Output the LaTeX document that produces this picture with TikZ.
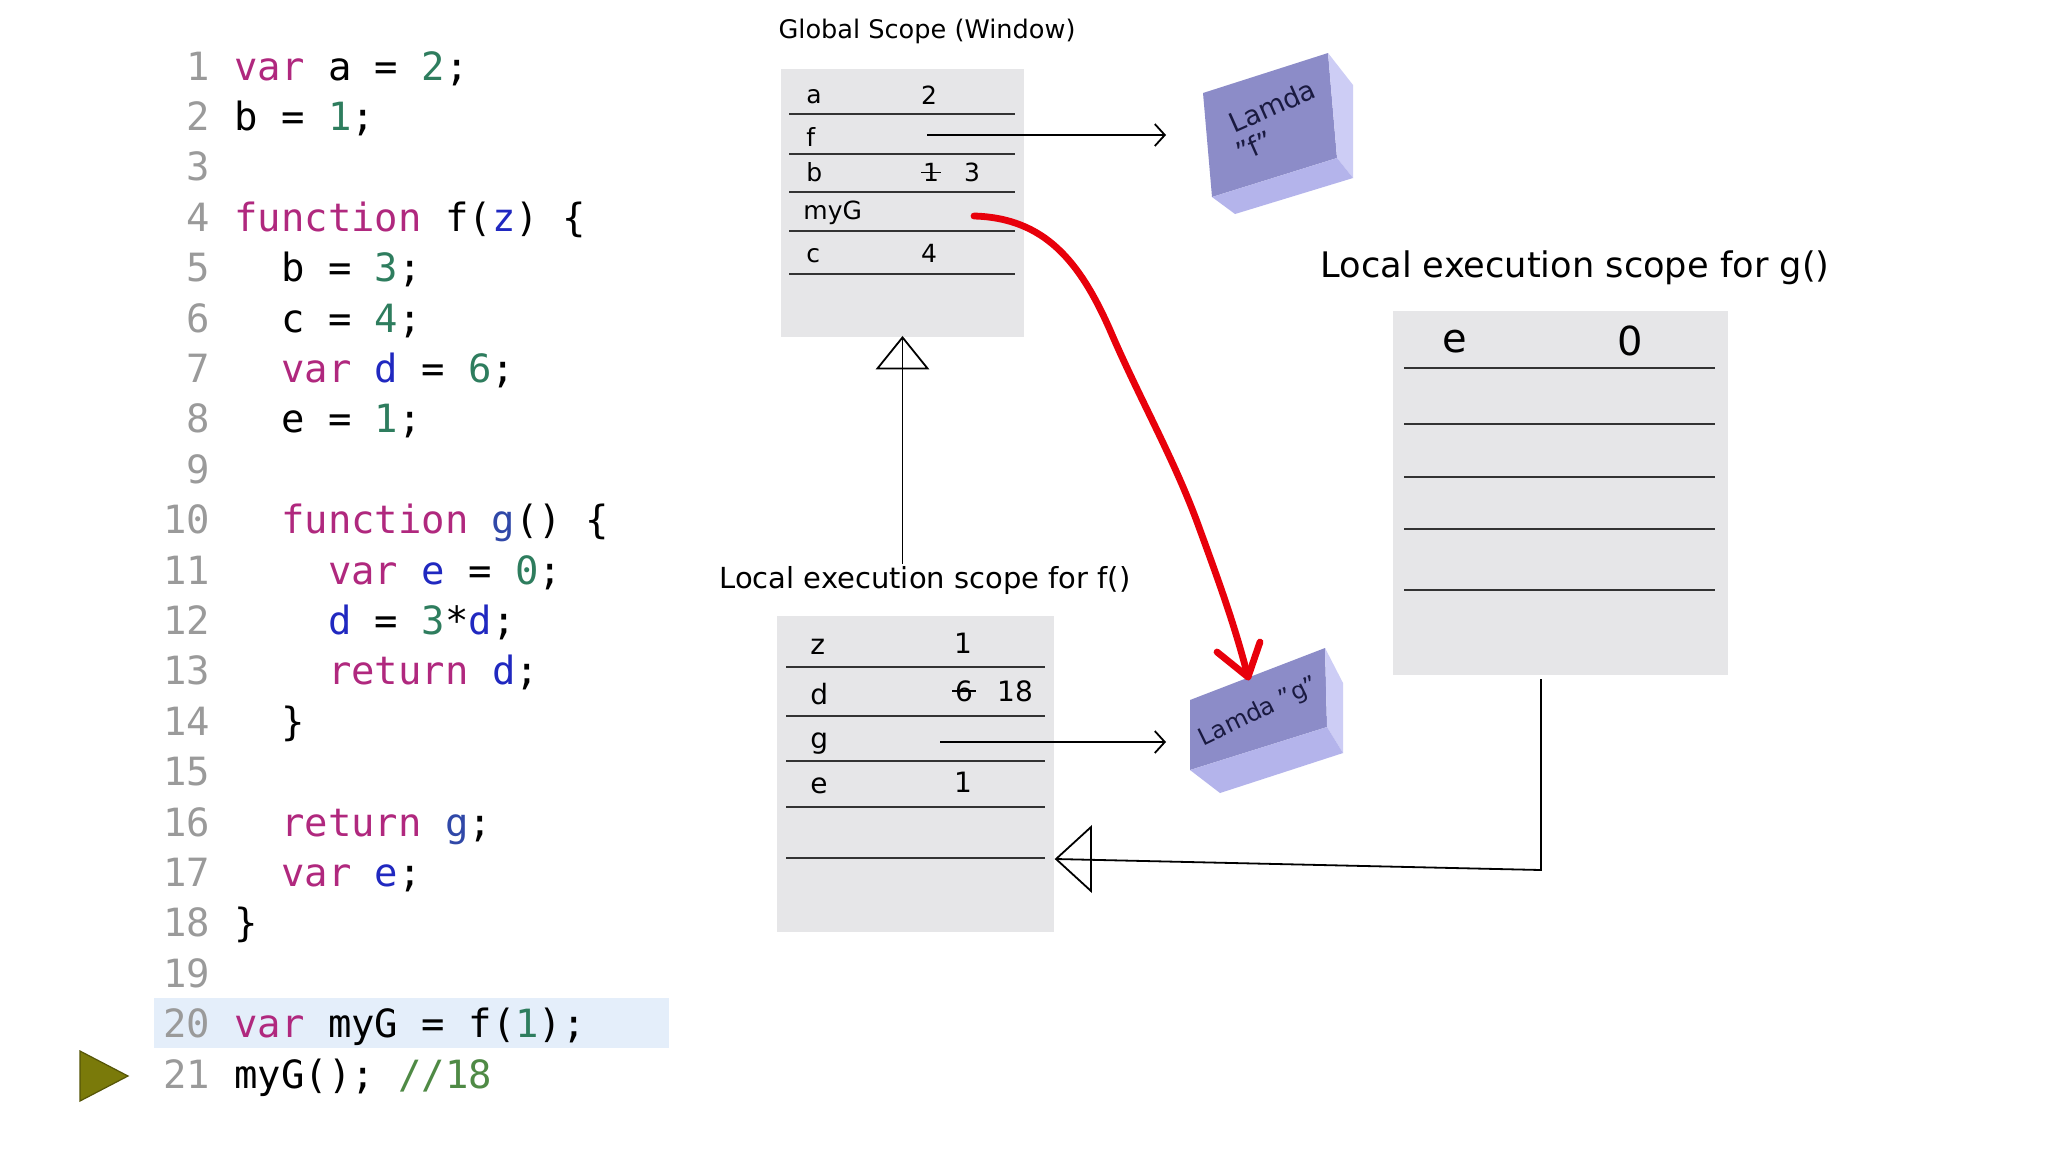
\documentclass[tikz,border=0pt]{standalone}
\usepackage{fontspec}
\setmainfont{DejaVu Sans}
\newfontfamily\codefont{DejaVu Sans Mono}
\usetikzlibrary{fit,arrows.meta}
\definecolor{kwc}{HTML}{B0287E}
\definecolor{numc}{HTML}{2E7D5E}
\definecolor{idc}{HTML}{2028C0}
\definecolor{idg}{HTML}{3048A8}
\definecolor{comc}{HTML}{4F8A45}
\definecolor{lnc}{HTML}{9A9A9A}
\definecolor{hlc}{HTML}{E4EEFA}
\definecolor{boxc}{HTML}{E6E6E8}
\definecolor{rowc}{HTML}{333333}
\definecolor{olive}{HTML}{7A7A0A}
\definecolor{facefront}{HTML}{8C8CC8}
\definecolor{faceright}{HTML}{CDCDF5}
\definecolor{facebottom}{HTML}{B4B4EB}
\definecolor{lamtext}{HTML}{1A1A40}
\definecolor{redc}{HTML}{E8000B}
\newcommand\ckw[1]{\textcolor{kwc}{#1}}
\newcommand\cnum[1]{\textcolor{numc}{#1}}
\newcommand\cid[1]{\textcolor{idc}{#1}}
\newcommand\cidg[1]{\textcolor{idg}{#1}}
\newcommand\ccom[1]{\textcolor{comc}{#1}}
\begin{document}
\begin{tikzpicture}[x=0.5pt,y=-0.5pt,
  codeline/.style={anchor=base west, inner sep=0pt, font=\codefont\fontsize{19.45}{23}\selectfont},
  lnum/.style={anchor=base east, inner sep=0pt, text=lnc, font=\codefont\fontsize{19.45}{23}\selectfont},
  scopebox/.style={fill=boxc, inner sep=0pt, draw=none},
  rowline/.style={draw=rowc, line width=1.2pt},
  gvar/.style={anchor=base west, inner sep=0pt, font=\fontsize{12.5}{15}\selectfont},
  gval/.style={anchor=base, inner sep=0pt, font=\fontsize{12.5}{15}\selectfont},
  fvar/.style={anchor=base west, inner sep=0pt, font=\fontsize{14}{17}\selectfont},
  fval/.style={anchor=base, inner sep=0pt, font=\fontsize{14}{17}\selectfont},
  hvar/.style={anchor=base, inner sep=0pt, font=\fontsize{20}{24}\selectfont},
  thinline/.style={draw=black, line width=0.9pt},
  ptr/.style={thinline, -{Straight Barb[length=5pt,width=11pt]}},
  lamlabel/.style={inner sep=0pt, text=lamtext, font=\fontsize{13.5}{16}\selectfont},
  titletext/.style={inner sep=1pt}
]
\useasboundingbox (0,0) rectangle (2048,1152);
\fill[white] (0,0) rectangle (2048,1152);

% ---------- code ----------
\fill[hlc] (154,998) rectangle (669,1048);
\foreach \k in {1,...,21} {
  \node[lnum] (n\k) at (210.6,{80+(\k-1)*50.4}) {\k};
}
\node[codeline] (l1)  at (234,80)     {\ckw{var} a = \cnum{2};};
\node[codeline] (l2)  at (234,130.4)  {b = \cnum{1};};
\node[codeline] (l4)  at (234,231.2)  {\ckw{function} f(\cid{z}) \{};
\node[codeline] (l5)  at (280.8,281.6) {b = \cnum{3};};
\node[codeline] (l6)  at (280.8,332)   {c = \cnum{4};};
\node[codeline] (l7)  at (280.8,382.4) {\ckw{var} \cid{d} = \cnum{6};};
\node[codeline] (l8)  at (280.8,432.8) {e = \cnum{1};};
\node[codeline] (l10) at (280.8,533.6) {\ckw{function} \cidg{g}() \{};
\node[codeline] (l11) at (327.7,584)   {\ckw{var} \cid{e} = \cnum{0};};
\node[codeline] (l12) at (327.7,634.4) {\cid{d} = \cnum{3}*\cid{d};};
\node[codeline] (l13) at (327.7,684.8) {\ckw{return} \cid{d};};
\node[codeline] (l14) at (280.8,735.2) {\}};
\node[codeline] (l16) at (280.8,836)   {\ckw{return} \cidg{g};};
\node[codeline] (l17) at (280.8,886.4) {\ckw{var} \cid{e};};
\node[codeline] (l18) at (234,936.8)   {\}};
\node[codeline] (l20) at (234,1037.6)  {\ckw{var} myG = f(\cnum{1});};
\node[codeline] (l21) at (234,1088)    {myG(); \ccom{//18}};
\filldraw[fill=olive, draw=olive!70!black, line width=0.6pt] (80,1051) -- (128,1076) -- (80,1101) -- cycle;

% ---------- global scope ----------
\node[titletext, font=\fontsize{12.8}{15}\selectfont] (gtitle) at (927,31) {Global Scope (Window)};
\node[scopebox, fit={(781,69) (1024,337)}] (gbox) {};
\foreach \yy in {114,154,192,231,274} { \draw[rowline] (789,\yy) -- (1015,\yy); }
\node[gvar] (ga) at (806,103) {a};
\node[gval] (ga2) at (929,104) {2};
\node[gvar] (gf) at (806,146) {f};
\node[gvar] (gb) at (806,181) {b};
\node[gval] (gb1) at (931,181) {1};
\draw[black, line width=0.8pt] ([xshift=-5pt,yshift=4.2pt]gb1.base) -- ([xshift=5pt,yshift=4.2pt]gb1.base);
\node[gval] (gb3) at (972,181) {3};
\node[gvar] (gmyG) at (803,219) {myG};
\node[gvar] (gc) at (806,262) {c};
\node[gval] (gc4) at (929,262) {4};

% ---------- lambda f ----------
\fill[facefront] (1203,93) -- (1328,53) -- (1337,158) -- (1212,197) -- cycle;
\fill[faceright] (1328,53) -- (1353,85) -- (1353,178) -- (1337,158) -- cycle;
\fill[facebottom] (1212,197) -- (1235,214) -- (1353,178) -- (1337,158) -- cycle;
\node[lamlabel, rotate=24] (lamfA) at (1272,106) {Lamda};
\node[lamlabel, rotate=24] (lamfB) at (1254,146) {"f"};
\coordinate (fptr) at (927,135);
\coordinate (lamfIn) at (1166,135);
\draw[ptr] (fptr) -- (lamfIn);

% ---------- f scope ----------
\node[titletext, font=\fontsize{14.5}{17}\selectfont] (ftitle) at (925,580) {Local execution scope for f()};
\node[scopebox, fit={(777,616) (1054,932)}] (fbox) {};
\foreach \yy in {667,716,761,807,858} { \draw[rowline] (786,\yy) -- (1045,\yy); }
\node[fvar] (fz) at (810,654) {z};
\node[fval] (fz1) at (963,653) {1};
\node[fvar] (fd) at (810,704) {d};
\node[fval] (fd6) at (964,701) {6};
\draw[black, line width=0.8pt] ([xshift=-6pt,yshift=5pt]fd6.base) -- ([xshift=6pt,yshift=5pt]fd6.base);
\node[fval] (fd18) at (1015,701) {18};
\node[fvar] (fg) at (810,748) {g};
\node[fvar] (fe) at (810,793) {e};
\node[fval] (fe1) at (963,792) {1};
\coordinate (gptr) at (940,742);
\coordinate (lamgIn) at (1166,742);
\draw[ptr] (gptr) -- (lamgIn);

% inheritance f -> global
\draw[thinline] (gbox.south) -- (gbox.south |- ftitle.north);
\draw[thinline] (gbox.south) -- ++(-25,31) -- ++(50,0) -- cycle;

% ---------- lambda g ----------
\fill[facefront] (1190,700) -- (1325,648) -- (1327,727) -- (1190,770) -- cycle;
\fill[faceright] (1325,648) -- (1343,683) -- (1343,753) -- (1327,727) -- cycle;
\fill[facebottom] (1190,770) -- (1220,793) -- (1343,753) -- (1327,727) -- cycle;
\node[lamlabel, rotate=26, font=\fontsize{12}{14}\selectfont] (lamgA) at (1259,712) {Lamda "g"};
\coordinate (lamgTop) at (1248,677);

% ---------- g scope ----------
\node[titletext, font=\fontsize{17.6}{21}\selectfont] (htitle) at (1575,268) {Local execution scope for g()};
\node[scopebox, fit={(1393,311) (1728,675)}] (hbox) {};
\foreach \yy in {368,424,477,529,590} { \draw[rowline] (1404,\yy) -- (1715,\yy); }
\node[hvar] (he) at (1455,352) {e};
\node[hvar] (he0) at (1630,355) {0};

% inheritance g -> f
\coordinate (hout) at (1541,679);
\coordinate (hcorner) at (1541,870);
\coordinate (fin) at (1056,859);
\draw[thinline] (hout) -- (hcorner) -- (fin);
\draw[thinline] (fin) -- ++(35,-32) -- ++(0,64) -- cycle;

% ---------- red pointer myG -> lambda g ----------
\coordinate (myGptr) at (974,216);
\draw[redc, line width=3.4pt, line cap=round, line join=round]
  (myGptr) .. controls (1045,218) and (1080,262) .. (1110,330)
  .. controls (1140,400) and (1175,460) .. (1200,530)
  .. controls (1222,590) and (1236,630) .. (lamgTop);
\draw[redc, line width=3.4pt, line cap=round, line join=round] (1217,652) -- (lamgTop) -- (1260,642);
\end{tikzpicture}
\end{document}
